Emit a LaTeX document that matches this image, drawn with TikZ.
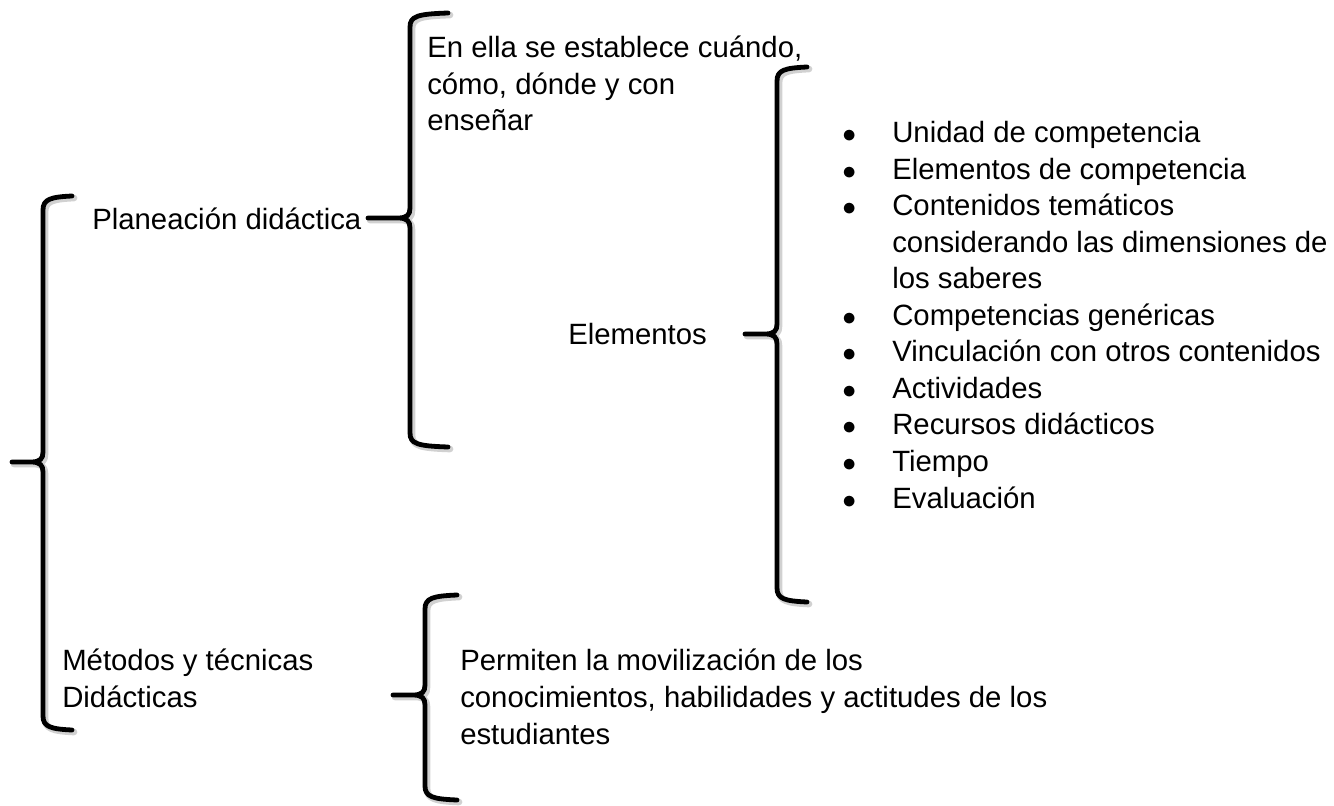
\documentclass[tikz,border=0pt]{standalone}
\usepackage{fontspec}
\setmainfont{Liberation Sans}
\newcommand\blt{\makebox[37.5pt][l]{$\bullet$}}
\newcommand\sangria{\hspace*{37.5pt}}
% brace: x, top, tip, bottom, hook end, tip end
\newcommand\bracepath[6]{(#5,#2) .. controls (#1+8,#2+1) and (#1,#2+3) .. (#1,#2+14) -- (#1,#3-10) .. controls (#1,#3-3) and (#1-3,#3) .. (#1-12,#3) -- (#6,#3)
  (#6,#3) -- (#1-12,#3) .. controls (#1-3,#3) and (#1,#3+3) .. (#1,#3+10) -- (#1,#4-14) .. controls (#1,#4-3) and (#1+8,#4-1) .. (#5,#4)}
\newcommand\llave[6]{%
  \draw[sombra] \bracepath{#1+2}{#2+2}{#3+2}{#4+2}{#5+2}{#6+2};
  \draw[llavel] \bracepath{#1}{#2}{#3}{#4}{#5}{#6};}

\begin{document}
\begin{tikzpicture}[x=0.75pt,y=-0.75pt,
  txt/.style={inner sep=0pt,anchor=base west,align=left,font=\fontsize{22pt}{27.4pt}\selectfont},
  llavel/.style={line width=3.6pt,line cap=round,line join=round},
  sombra/.style={line width=5pt,black!18,line cap=round,line join=round}]
\useasboundingbox (0,0) rectangle (1334,806);

      \node [txt] at (92,229) (plan) {Planeación didáctica};
       \node [txt] at (427,131) (cuando) {En ella se establece cuándo,\\cómo, dónde y con\\enseñar};
        \node [txt] at (568,344) (elem) {Elementos};
         \node [txt] at (842,508) (lista) {\blt Unidad de competencia\\
           \blt Elementos de competencia\\
           \blt Contenidos temáticos\\
           \sangria considerando las dimensiones de\\
           \sangria los saberes\\
           \blt Competencias genéricas\\
           \blt Vinculación con otros contenidos\\
           \blt Actividades\\
           \blt Recursos didácticos\\
           \blt Tiempo\\
           \blt Evaluación};
          \node [txt] at (62,707) (metodos) {Métodos y técnicas\\Didácticas};
           \node [txt] at (460,744) (permiten) {Permiten la movilización de los\\conocimientos, habilidades y actitudes de los\\estudiantes};
%
%
\llave{43}{196}{462}{730}{72}{12}
\llave{410}{13}{218}{447}{448}{368}
\llave{777}{67}{334}{602}{807}{745}
\llave{425}{595}{695}{800}{457}{393}

\end{tikzpicture}
\end{document}
